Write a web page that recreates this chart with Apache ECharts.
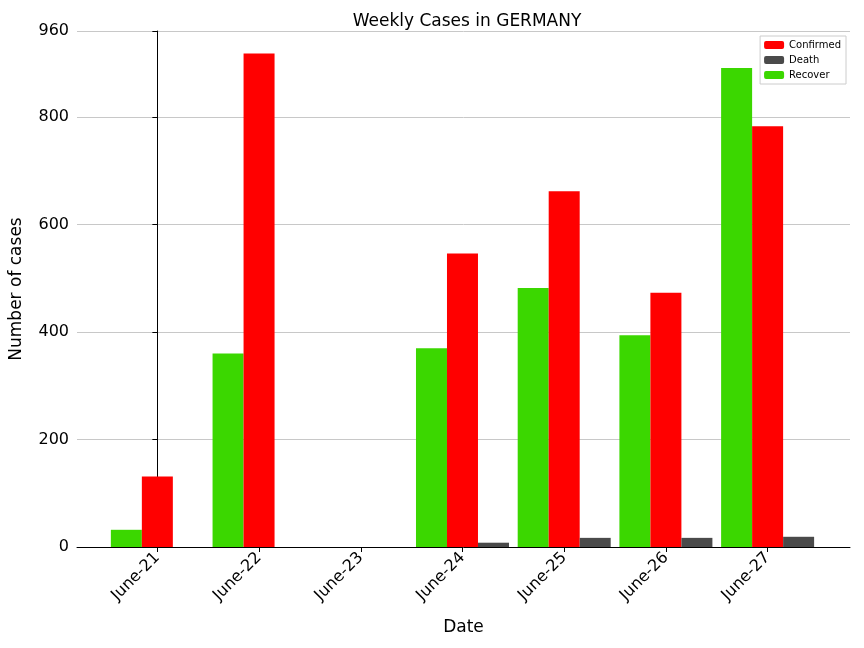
<!DOCTYPE html>
<html><head><meta charset="utf-8">
<script src="https://cdn.jsdelivr.net/npm/echarts@6/dist/echarts.min.js"></script>
<style>html,body{margin:0;background:#fff}#c{width:864px;height:648px}</style>
</head><body><div id="c"></div>
<script>
var dates = ['June-21', 'June-22', 'June-23', 'June-24', 'June-25', 'June-26', 'June-27'];
var recover = [32, 360, 0, 370, 482, 394, 891];
var confirmed = [131, 918, 0, 546, 662, 473, 783];
var death = [0, 0, 0, 8, 17, 17, 19];

function pts(arr) {
	return arr.map(function(v, i) { return [i, v]; });
}
var chart = echarts.init(document.getElementById('c'));
chart.setOption({
	animation: false,
	title: {
		text: 'Weekly Cases in GERMANY',
		left: 462, top: 8, textAlign: 'center',
		textStyle: { fontSize: 17, fontWeight: 'normal', color: '#000', fontFamily: 'DejaVu Sans' }
	},
	legend: {
		right: 18, top: 36, orient: 'vertical', itemWidth: 20, itemHeight: 8, itemGap: 5,
		borderColor: '#ccc', borderWidth: 1, padding: [4, 5, 4, 4], itemStyle: {},
		textStyle: { fontSize: 10, color: '#000', fontFamily: 'DejaVu Sans' },
		data: ['Confirmed', 'Death', 'Recover']
	},
	grid: { left: 74, right: 14, top: 31, bottom: 101 },
	xAxis: {
		type: 'value', min: -0.79, max: 6.81,
		name: 'Date', nameLocation: 'middle', nameGap: 72,
		nameTextStyle: { fontSize: 17, color: '#000', fontFamily: 'DejaVu Sans' },
		splitLine: { show: false },
		axisLine: { lineStyle: { color: '#000' } },
		axisTick: { customValues: [0, 1, 2, 3, 4, 5, 6], lineStyle: { color: '#000' } },
		axisLabel: {
			customValues: [0, 1, 2, 3, 4, 5, 6], rotate: 45, fontSize: 16, color: '#000', fontFamily: 'DejaVu Sans',
			formatter: function(v) { return dates[Math.round(v)]; }
		}
	},
	yAxis: {
		type: 'value', min: 0, max: 960, interval: 200,
		name: 'Number of cases', nameLocation: 'middle', nameGap: 52,
		nameTextStyle: { fontSize: 17, color: '#000', fontFamily: 'DejaVu Sans' },
		axisLine: { show: true, lineStyle: { color: '#000' } },
		axisTick: { show: true, lineStyle: { color: '#000' } },
		axisLabel: { fontSize: 16, color: '#000', fontFamily: 'DejaVu Sans' },
		splitLine: { lineStyle: { color: '#c8c8c8' } }
	},
	series: [
		{ name: 'Recover', type: 'bar', barWidth: 31, barGap: '0%', data: pts(recover), itemStyle: { color: '#3bd700' } },
		{ name: 'Confirmed', type: 'bar', barWidth: 31, barGap: '0%', data: pts(confirmed), itemStyle: { color: '#ff0000' } },
		{ name: 'Death', type: 'bar', barWidth: 31, barGap: '0%', data: pts(death), itemStyle: { color: '#4a4a4a' } }
	]
});
</script></body></html>
